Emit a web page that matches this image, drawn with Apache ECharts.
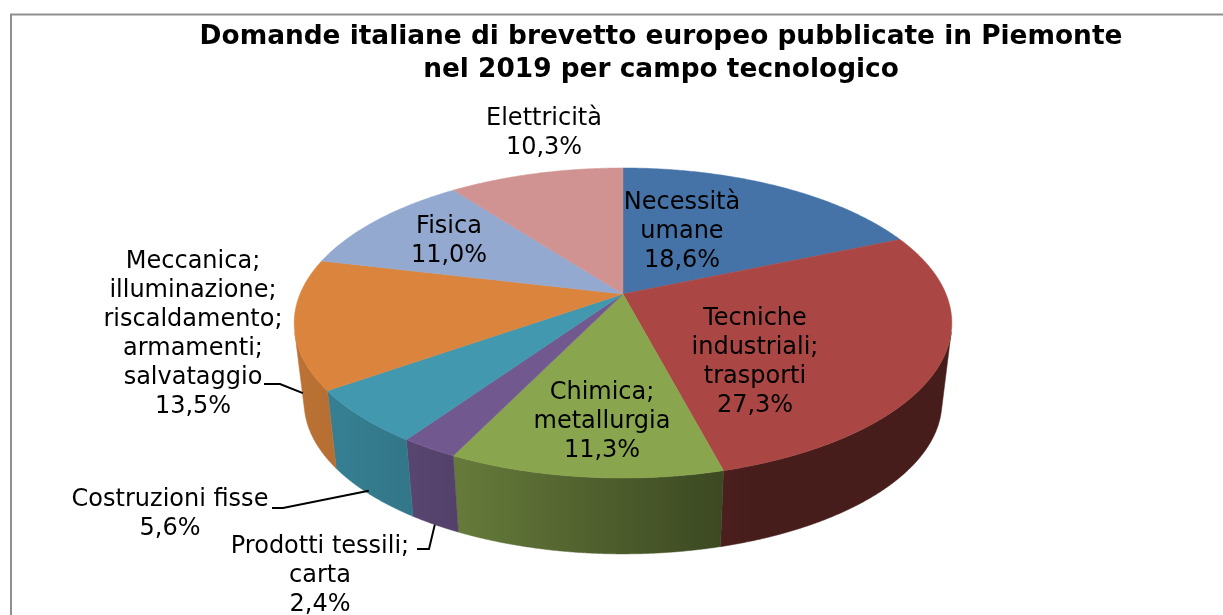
<!DOCTYPE html>
<html><head><meta charset="utf-8">
<style>html,body{margin:0;padding:0;background:#fff}#c{width:1223px;height:615px}</style>
<script src="https://cdn.jsdelivr.net/npm/echarts@6/dist/echarts.min.js"></script>
</head><body><div id="c"></div>
<script>
const categories = ['Necessità\numane','Tecniche\nindustriali;\ntrasporti','Chimica;\nmetallurgia','Prodotti tessili;\ncarta','Costruzioni fisse','Meccanica;\nilluminazione;\nriscaldamento;\narmamenti;\nsalvataggio','Fisica','Elettricità'];
const values = [18.6,27.3,11.3,2.4,5.6,13.5,11.0,10.3];
const palette = ['#4572A7','#AA4643','#89A54E','#71588F','#4198AF','#DB843D','#93A9CF','#D19392'];
const titleText = 'Domande italiane di brevetto europeo pubblicate in Piemonte\nnel 2019 per campo tecnologico';

// layout
const FONT = '"DejaVu Sans", sans-serif';
const labelCentres = [[682,232],[755,362],[602,422],[320,576],[170,514],[193,334],[449,241],[544,133]];
const leaders = {3:{elbow:[[417,549],[429,549]],f:1},4:{elbow:[[272,508],[283,508]],f:.96},5:{elbow:[[264,384],[280,384]],f:.88}};
const P = {cx:623, cy:294, C:323, B:149.6, k:-0.187, sx:0.97, sy:0.98, midTop:323, midBot:402};

const total = values.reduce((a,b)=>a+b,0);
const cum = values.reduce((a,v,i)=>{a.push(a[i]+v);return a;},[0]);
function topPt(t){
  const x=Math.sin(t), y=-Math.cos(t), w=1+P.k*y;
  return [P.cx+P.C*x/w, P.cy+P.B*y/w];
}
function botPt(t){
  const p=topPt(t);
  return [P.cx+(p[0]-P.cx)*P.sx, P.midBot+(p[1]-P.midTop)*P.sy];
}
const ang = s => 2*Math.PI*s/total;
function arcAngles(a,b,step){
  const n=Math.max(4,Math.ceil((b-a)/step)), out=[];
  for(let i=0;i<=n;i++) out.push(a+(b-a)*i/n);
  return out;
}
function frontFacing(t){
  const e=1e-3, p=topPt(t), q=topPt(t+e), r=botPt(t);
  return (q[0]-p[0])*(r[1]-p[1])-(q[1]-p[1])*(r[0]-p[0]) < 0;
}
// wall shading as a function of x: light on the left, dark on the right
const shadeKnots=[[295,.86],[400,.79],[460,.74],[590,.59],[720,.44],[760,.41],[960,.41]];
function shade(hex,f){
  const n=parseInt(hex.slice(1),16);
  return 'rgb('+[(n>>16)&255,(n>>8)&255,n&255].map(c=>Math.round(c*f)).join(',')+')';
}
function wallFill(hex){
  const x0=295,x1=960;
  return {type:'linear',x:x0,y:0,x2:x1,y2:0,global:true,
    colorStops:shadeKnots.map(k=>({offset:(k[0]-x0)/(x1-x0),color:shade(hex,k[1])}))};
}
function renderWall(params,api){
  const i=params.dataIndex, a=ang(cum[i]), b=ang(cum[i]+api.value(1));
  const ts=arcAngles(a,b,0.004).filter(frontFacing);
  if(ts.length<2) return {type:'group',children:[]};
  const pts=ts.map(topPt).concat(ts.map(botPt).reverse());
  const fill=wallFill(palette[i]);
  return {type:'polygon',shape:{points:pts},style:{fill:fill,stroke:fill,lineWidth:0.5}};
}
function renderTop(params,api){
  const i=params.dataIndex, a=ang(cum[i]), b=ang(cum[i]+api.value(1));
  const pts=[[P.cx,P.cy]].concat(arcAngles(a,b,0.008).map(topPt));
  return {type:'polygon',shape:{points:pts},style:{fill:palette[i],stroke:palette[i],lineWidth:0.5}};
}
function renderLabel(params,api){
  const i=params.dataIndex, v=api.value(1);
  const children=[{type:'text',style:{
    text:categories[i]+'\n'+v.toFixed(1).replace('.',',')+'%',
    x:labelCentres[i][0],y:labelCentres[i][1],align:'center',verticalAlign:'middle',
    font:'24px '+FONT,lineHeight:29,fill:'#000'}}];
  const l=leaders[i];
  if(l){
    const t=ang(cum[i]+v/2), pt=topPt(t), pb=botPt(t);
    const end=[pt[0]+(pb[0]-pt[0])*l.f, pt[1]+(pb[1]-pt[1])*l.f];
    children.push({type:'polyline',shape:{points:l.elbow.concat([end])},style:{fill:null,stroke:'#000',lineWidth:2}});
  }
  return {type:'group',children:children};
}
const data = categories.map((n,i)=>({name:n,value:[i,values[i]]}));
const chart = echarts.init(document.getElementById('c'),null,{renderer:'canvas'});
const cv = chart.getDom().querySelector('canvas');
if(cv) cv.getContext('2d').textRendering='optimizeSpeed';
chart.setOption({
  animation:false,
  backgroundColor:'#fff',
  title:{text:titleText,left:656,top:16,textAlign:'center',
    textStyle:{fontFamily:FONT,fontWeight:'bold',fontSize:26.4,lineHeight:33,color:'#000'}},
  graphic:[{type:'polyline',silent:true,shape:{points:[[11,615],[11,14.5],[1223,14.5]]},
    style:{fill:null,stroke:'#8f8f8f',lineWidth:2}}],
  series:[
    {type:'custom',name:'Pareti',coordinateSystem:'none',renderItem:renderWall,data:data,silent:true,z:1},
    {type:'custom',name:'Domande',coordinateSystem:'none',renderItem:renderTop,data:data,silent:true,z:2},
    {type:'custom',name:'Etichette',coordinateSystem:'none',renderItem:renderLabel,data:data,silent:true,z:3}
  ]
});
</script></body></html>
